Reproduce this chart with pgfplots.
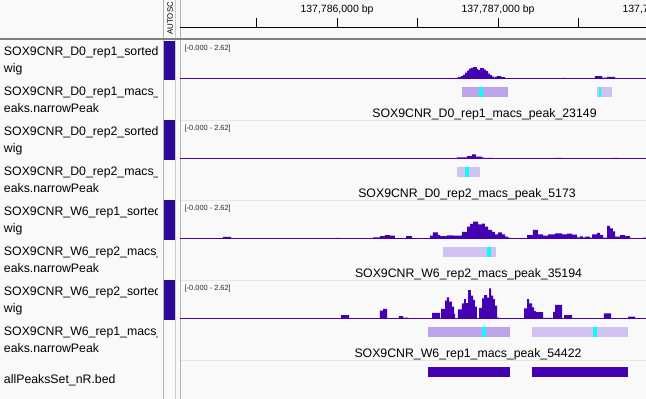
\documentclass[border=0pt]{standalone}
\usepackage{pgfplots}
\pgfplotsset{compat=1.18}
\usepackage{fontspec}
\setmainfont{Liberation Sans}
\definecolor{wig}{RGB}{68,0,180}
\definecolor{attr}{RGB}{45,10,150}
\definecolor{medlav}{RGB}{188,163,234}
\definecolor{litlav}{RGB}{210,194,242}
\definecolor{bg}{RGB}{249,249,249}
\definecolor{cy}{RGB}{0,255,255}
\definecolor{hdr}{RGB}{128,128,128}
\definecolor{sep}{RGB}{230,230,230}
\newcommand\nm{\fontsize{12.3}{14}\selectfont}
\pgfplotsset{
 trk/.style={scale only axis, width=466pt, height=38.7pt, xmin=25, xmax=2919, ymin=0, ymax=2.62, hide axis, anchor=south west},
 ftr/.style={scale only axis, width=466pt, height=10pt, xmin=25, xmax=2919, ymin=0, ymax=1, hide axis, anchor=south west},
 sig/.style={const plot, fill=wig, draw=none},
 base/.style={wig, line width=0.9pt},
}
\begin{document}
\begin{tikzpicture}
\useasboundingbox (0pt,0pt) rectangle (646pt,-399pt);
\clip (0pt,0pt) rectangle (646pt,-399pt);
\fill[bg] (0pt,0pt) rectangle (646pt,-399pt);
% attribute column
\fill[attr] (164pt,-40.5pt) rectangle (174.5pt,-80pt);
\fill[attr] (164pt,-120pt) rectangle (174.5pt,-159.5pt);
\fill[attr] (164pt,-200pt) rectangle (174.5pt,-239.5pt);
\fill[attr] (164pt,-280pt) rectangle (174.5pt,-319.5pt);
\draw[gray!60, line width=0.8pt] (163.4pt,0pt) -- (163.4pt,-399pt);
\draw[gray!40, line width=0.8pt] (175.3pt,0pt) -- (175.3pt,-399pt);
\draw[gray!60, line width=0.8pt] (180.2pt,0pt) -- (180.2pt,-399pt);
\node[rotate=90, anchor=base west, inner sep=0pt, font=\fontsize{7.9}{9}\selectfont] at (172.8pt,-35pt) {AUTOSC};
% header separator
\draw[hdr, line width=2.3pt] (0pt,-39pt) -- (646pt,-39pt);
% track separators
\foreach \yy in {120,200,280,360} {\draw[sep, line width=0.6pt] (180.6pt,-\yy pt) -- (646pt,-\yy pt);}
% names
\begin{scope}
\clip (0pt,-40pt) rectangle (157.5pt,-399pt);
\node[anchor=base west, inner sep=0pt, font=\nm] at (3.8pt,-55.7pt) {SOX9CNR\_D0\_rep1\_sorted};
\node[anchor=base west, inner sep=0pt, font=\nm] at (3.8pt,-72.7pt) {wig};
\node[anchor=base west, inner sep=0pt, font=\nm] at (3.8pt,-95.7pt) {SOX9CNR\_D0\_rep1\_macs\_};
\node[anchor=base west, inner sep=0pt, font=\nm] at (3.8pt,-112.7pt) {eaks.narrowPeak};
\node[anchor=base west, inner sep=0pt, font=\nm] at (3.8pt,-135.7pt) {SOX9CNR\_D0\_rep2\_sorted};
\node[anchor=base west, inner sep=0pt, font=\nm] at (3.8pt,-152.7pt) {wig};
\node[anchor=base west, inner sep=0pt, font=\nm] at (3.8pt,-175.7pt) {SOX9CNR\_D0\_rep2\_macs\_};
\node[anchor=base west, inner sep=0pt, font=\nm] at (3.8pt,-192.7pt) {eaks.narrowPeak};
\node[anchor=base west, inner sep=0pt, font=\nm] at (3.8pt,-215.7pt) {SOX9CNR\_W6\_rep1\_sorted};
\node[anchor=base west, inner sep=0pt, font=\nm] at (3.8pt,-232.7pt) {wig};
\node[anchor=base west, inner sep=0pt, font=\nm] at (3.8pt,-255.7pt) {SOX9CNR\_W6\_rep2\_macs\_};
\node[anchor=base west, inner sep=0pt, font=\nm] at (3.8pt,-272.7pt) {eaks.narrowPeak};
\node[anchor=base west, inner sep=0pt, font=\nm] at (3.8pt,-295.7pt) {SOX9CNR\_W6\_rep2\_sorted};
\node[anchor=base west, inner sep=0pt, font=\nm] at (3.8pt,-312.7pt) {wig};
\node[anchor=base west, inner sep=0pt, font=\nm] at (3.8pt,-335.7pt) {SOX9CNR\_W6\_rep1\_macs\_};
\node[anchor=base west, inner sep=0pt, font=\nm] at (3.8pt,-352.7pt) {eaks.narrowPeak};
\node[anchor=base west, inner sep=0pt, font=\nm] at (3.8pt,-383.3pt) {allPeaksSet\_nR.bed};
\end{scope}
% ruler
\begin{axis}[scale only axis, width=466pt, height=10pt, at={(180pt,-27pt)}, anchor=south west,
  xmin=25, xmax=2919, ymin=0, ymax=1, axis x line*=bottom, axis y line=none,
  xtick={500,1000,1500,2000,2500}, xticklabels={}, major tick length=9.5pt, xtick align=inside,
  axis line style={black, line width=0.9pt}, tick style={black, line width=0.9pt}]
\addplot[draw=none] coordinates {(25,0) (2919,0)};
\end{axis}
\node[anchor=base, font=\fontsize{10.5}{12}\selectfont] at (337pt,-12.5pt) {137,786,000 bp};
\node[anchor=base, font=\fontsize{10.5}{12}\selectfont] at (498pt,-12.5pt) {137,787,000 bp};
\node[anchor=base, font=\fontsize{10.5}{12}\selectfont] at (659pt,-12.5pt) {137,788,000 bp};
% range labels
\foreach \yy in {50,130,210,290} {\node[anchor=base west, inner sep=0pt, font=\fontsize{7.4}{8}\selectfont, black!85] at (184.5pt,-\yy pt) {[-0.000 - 2.62]};}
% Track 1: SOX9CNR_D0_rep1 wig
\begin{axis}[trk, at={(180pt,-78.7pt)}]
\addplot[sig] coordinates {(1733,0.05) (1751,0.10) (1770,0.17) (1783,0.27) (1795,0.41) (1808,0.54) (1820,0.68) (1832,0.74) (1845,0.79) (1857,0.78) (1869,0.64) (1876,0.58) (1888,0.71) (1901,0.72) (1913,0.61) (1925,0.51) (1938,0.34) (1950,0.24) (1963,0.14) (1975,0.07) (1981,0.14) (1994,0.18) (2006,0.17) (2019,0.10) (2044,0)} \closedcycle;
\addplot[sig] coordinates {(2404,0.07) (2410,0)} \closedcycle;
\addplot[sig] coordinates {(2602,0.18) (2646,0.07) (2677,0.12) (2727,0)} \closedcycle;
\addplot[base] coordinates {(25,0) (2919,0)};
\end{axis}
% Track 2: D0_rep1 narrowPeak
\begin{axis}[ftr, at={(180pt,-97pt)}]
\addplot[fill=medlav, draw=none] coordinates {(1776,1) (2062,1)} \closedcycle;
\addplot[fill=cy, draw=none] coordinates {(1884,1) (1909,1)} \closedcycle;
\addplot[fill=litlav, draw=none] coordinates {(2615,1) (2708,1)} \closedcycle;
\addplot[fill=cy, draw=none] coordinates {(2627,1) (2640,1)} \closedcycle;
\end{axis}
\node[anchor=base, font=\nm] at (484.5pt,-117.3pt) {SOX9CNR\_D0\_rep1\_macs\_peak\_23149};
% Track 3: D0_rep2 wig
\begin{axis}[trk, at={(180pt,-158.7pt)}]
\addplot[sig] coordinates {(1745,0.09) (1808,0.18) (1839,0.29) (1863,0.14) (1901,0.07) (1919,0)} \closedcycle;
\addplot[sig] coordinates {(1932,0.06) (1969,0)} \closedcycle;
\addplot[sig] coordinates {(2354,0.06) (2398,0)} \closedcycle;
\addplot[sig] coordinates {(2714,0.06) (2745,0)} \closedcycle;
\addplot[base] coordinates {(25,0) (2919,0)};
\end{axis}
% Track 4: D0_rep2 narrowPeak
\begin{axis}[ftr, at={(180pt,-177pt)}]
\addplot[fill=litlav, draw=none] coordinates {(1745,1) (1888,1)} \closedcycle;
\addplot[fill=cy, draw=none] coordinates {(1795,1) (1820,1)} \closedcycle;
\end{axis}
\node[anchor=base, font=\nm] at (467pt,-197.3pt) {SOX9CNR\_D0\_rep2\_macs\_peak\_5173};
% Track 5: W6_rep1 wig
\begin{axis}[trk, at={(180pt,-238.7pt)}]
\addplot[sig] coordinates {(292,0.12) (342,0)} \closedcycle;
\addplot[sig] coordinates {(1000,0.07) (1006,0)} \closedcycle;
\addplot[sig] coordinates {(1224,0.09) (1267,0.18) (1298,0.25) (1329,0.20) (1360,0)} \closedcycle;
\addplot[sig] coordinates {(1429,0.18) (1466,0)} \closedcycle;
\addplot[sig] coordinates {(1578,0.20) (1596,0.43) (1627,0.25) (1640,0.18) (1683,0.22) (1721,0.20) (1776,0.47) (1808,0.81) (1826,1.00) (1845,1.15) (1876,0.97) (1901,1.02) (1919,0.81) (1938,0.59) (1963,0.47) (1981,0.29) (2000,0.43) (2025,0.29) (2044,0.14) (2062,0.07) (2075,0)} \closedcycle;
\addplot[sig] coordinates {(2180,0.25) (2217,0.59) (2248,0.29) (2280,0.20) (2311,0.29) (2354,0.36) (2398,0.29) (2429,0.34) (2460,0.27) (2491,0.09) (2509,0.16) (2528,0.07) (2540,0.14) (2571,0.07) (2584,0.29) (2615,0.39) (2634,0.25) (2652,0.07) (2677,0.86) (2696,0.70) (2714,0.50) (2727,0.14) (2758,0.25) (2789,0.18) (2820,0)} \closedcycle;
\addplot[sig] coordinates {(2901,0.07) (2925,0)} \closedcycle;
\addplot[base] coordinates {(25,0) (2919,0)};
\end{axis}
% Track 6: W6_rep2 narrowPeak
\begin{axis}[ftr, at={(180pt,-257pt)}]
\addplot[fill=litlav, draw=none] coordinates {(1658,1) (1988,1)} \closedcycle;
\addplot[fill=cy, draw=none] coordinates {(1932,1) (1957,1)} \closedcycle;
\end{axis}
\node[anchor=base, font=\nm] at (468.5pt,-277.3pt) {SOX9CNR\_W6\_rep2\_macs\_peak\_35194};
% Track 7: W6_rep2 wig
\begin{axis}[trk, at={(180pt,-318.7pt)}]
\addplot[sig] coordinates {(1025,0.25) (1075,0)} \closedcycle;
\addplot[sig] coordinates {(1267,0.54) (1286,0.66) (1311,0)} \closedcycle;
\addplot[sig] coordinates {(1385,0.18) (1410,0.07) (1441,0)} \closedcycle;
\addplot[sig] coordinates {(1590,0.39) (1640,0)} \closedcycle;
\addplot[sig] coordinates {(1646,0.66) (1671,1.22) (1683,1.44) (1696,1.15) (1714,0.81) (1727,0.32) (1733,0)} \closedcycle;
\addplot[sig] coordinates {(1751,0.63) (1776,1.04) (1789,1.33) (1801,1.06) (1814,1.94) (1832,1.56) (1845,1.27) (1857,0.81) (1869,0)} \closedcycle;
\addplot[sig] coordinates {(1882,0.74) (1901,1.37) (1913,1.60) (1932,1.42) (1944,2.05) (1957,1.56) (1969,1.33) (1981,0.88) (1994,0.07) (2006,0)} \closedcycle;
\addplot[sig] coordinates {(2162,0.70) (2180,1.33) (2193,1.04) (2211,0.77) (2224,0.52) (2236,0.45) (2280,0.06) (2335,0)} \closedcycle;
\addplot[sig] coordinates {(2342,0.47) (2354,0.93) (2398,0)} \closedcycle;
\addplot[sig] coordinates {(2410,0.25) (2460,0)} \closedcycle;
\addplot[sig] coordinates {(2658,0.36) (2702,0)} \closedcycle;
\addplot[sig] coordinates {(2808,0.14) (2851,0)} \closedcycle;
\addplot[base] coordinates {(25,0) (2919,0)};
\end{axis}
% Track 8: W6_rep1 narrowPeak
\begin{axis}[ftr, at={(180pt,-337pt)}]
\addplot[fill=medlav, draw=none] coordinates {(1565,1) (2075,1)} \closedcycle;
\addplot[fill=cy, draw=none] coordinates {(1899,1) (1925,1)} \closedcycle;
\addplot[fill=litlav, draw=none] coordinates {(2211,1) (2808,1)} \closedcycle;
\addplot[fill=cy, draw=none] coordinates {(2590,1) (2615,1)} \closedcycle;
\end{axis}
\node[anchor=base, font=\nm] at (468pt,-357.3pt) {SOX9CNR\_W6\_rep1\_macs\_peak\_54422};
% Track 9: allPeaksSet_nR.bed
\begin{axis}[ftr, at={(180pt,-377pt)}]
\addplot[fill=wig, draw=none] coordinates {(1565,1) (2075,1)} \closedcycle;
\addplot[fill=wig, draw=none] coordinates {(2211,1) (2808,1)} \closedcycle;
\end{axis}
\end{tikzpicture}
\end{document}
